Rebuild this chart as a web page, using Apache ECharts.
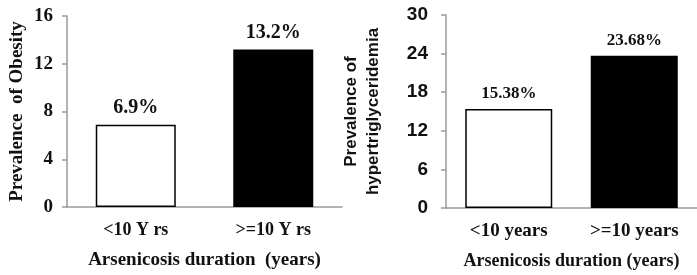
<!DOCTYPE html>
<html>
<head>
<meta charset="utf-8">
<script src="https://cdn.jsdelivr.net/npm/echarts@6/dist/echarts.min.js"></script>
<style>
  html, body { margin: 0; padding: 0; background: #fff; }
  #chart { width: 697px; height: 275px; }
</style>
</head>
<body>
<div id="chart"></div>
<script>
  // left panel: obesity
  var obesityCats = ['<10 Y rs', '>=10 Y rs'];
  var obesityVals = [6.9, 13.2];
  var obesityLabels = ['6.9%', '13.2%'];

  // right panel: hypertriglyceridemia
  var hyperCats = ['<10 years', '>=10 years'];
  var hyperVals = [15.38, 23.68];
  var hyperLabels = ['15.38%', '23.68%'];

  var barColors = ['#ffffff', '#000000'];
  var serif = '"Liberation Serif", "Times New Roman", serif';
  var sans = '"Liberation Sans", Arial, sans-serif';

  var chart = echarts.init(document.getElementById('chart'));

  function xAx(idx, cats, name, catSize, nameSize) {
    return {
      type: 'category',
      gridIndex: idx,
      data: cats,
      name: name,
      nameLocation: 'middle',
      nameGap: 44,
      nameTextStyle: { fontFamily: serif, fontWeight: 'bold', fontSize: nameSize, color: '#111' },
      axisLine: { lineStyle: { color: '#9a9a9a', width: 1.5 } },
      axisTick: { show: false },
      axisLabel: { fontFamily: serif, fontWeight: 'bold', fontSize: catSize, color: '#111', margin: 14 }
    };
  }

  function yAx(idx, max, step, name, gap, fam, size, tickFam, margin) {
    return {
      type: 'value',
      gridIndex: idx,
      min: 0,
      max: max,
      interval: step,
      name: name,
      nameLocation: 'middle',
      nameRotate: 90,
      nameGap: gap,
      nameTextStyle: { fontFamily: fam, fontWeight: 'bold', fontSize: size, color: '#111', lineHeight: 22 },
      splitLine: { show: false },
      axisLine: { show: true, lineStyle: { color: '#9a9a9a', width: 1.5 } },
      axisTick: { show: true, length: 5, lineStyle: { color: '#9a9a9a', width: 1.5 } },
      axisLabel: { fontFamily: tickFam, fontWeight: 'bold', fontSize: 19, color: '#111', margin: margin }
    };
  }

  function barSeries(idx, vals, labels, width, size) {
    return {
      type: 'bar',
      xAxisIndex: idx,
      yAxisIndex: idx,
      barWidth: width,
      data: vals.map(function (v, i) {
        return {
          value: v,
          itemStyle: { color: barColors[i], borderColor: '#000', borderWidth: 1.5 },
          label: { formatter: labels[i] }
        };
      }),
      label: {
        show: true,
        position: 'top',
        distance: 7,
        fontFamily: serif,
        fontWeight: 'bold',
        fontSize: size,
        color: '#111'
      }
    };
  }

  chart.setOption({
    animation: false,
    grid: [
      { left: 67, top: 16, width: 275, height: 192 },
      { left: 446, top: 15, width: 264, height: 193 }
    ],
    xAxis: [
      xAx(0, obesityCats, 'Arsenicosis duration  (years)', 18, 19),
      xAx(1, hyperCats, 'Arsenicosis duration (years)', 19, 18)
    ],
    yAxis: [
      yAx(0, 16, 4, 'Prevalence  of Obesity', 39, serif, 19, serif, 14),
      yAx(1, 30, 6, 'Prevalence of\nhypertriglyceridemia', 62, sans, 17, sans, 18)
    ],
    series: [
      barSeries(0, obesityVals, obesityLabels, 80, 20),
      barSeries(1, hyperVals, hyperLabels, 87, 17)
    ]
  });
</script>
</body>
</html>
